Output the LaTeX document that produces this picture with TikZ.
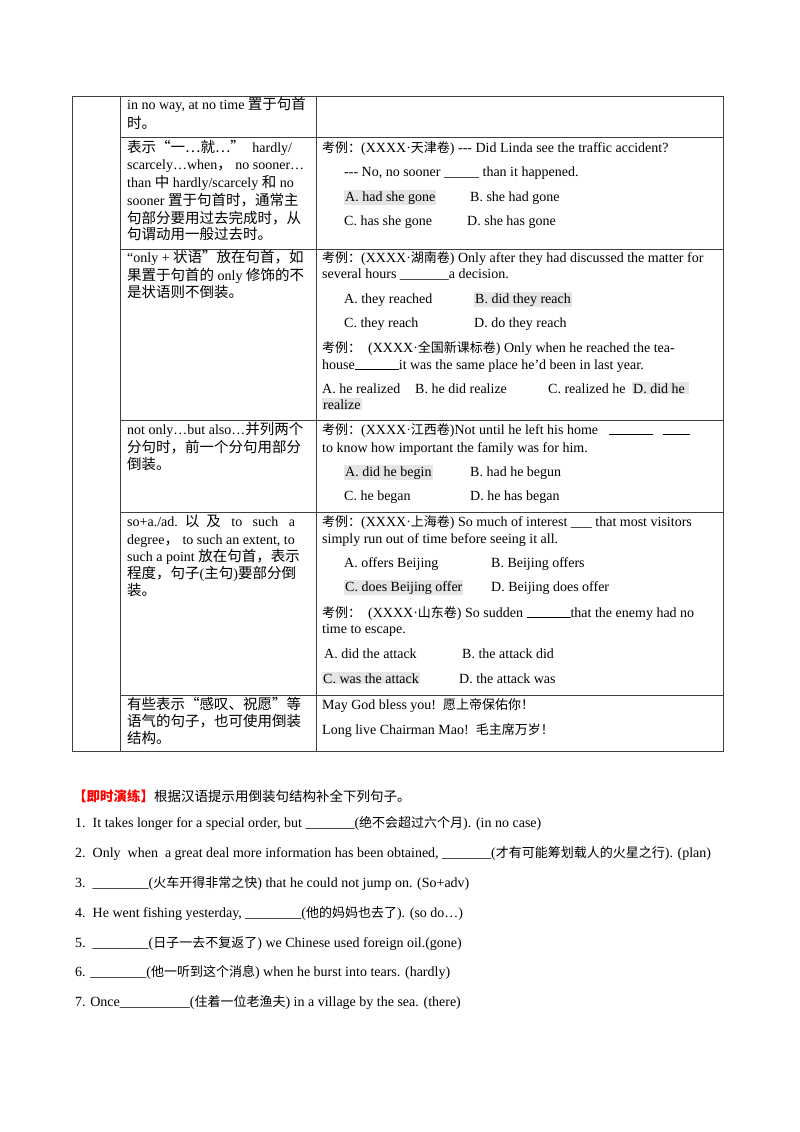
\documentclass[tikz,border=0pt]{standalone}
\usepackage{fontspec}
\setmainfont{Liberation Serif}
\newfontfamily\cjk{Noto Sans CJK SC}
\newcommand\z[1]{{\cjk\fontsize{13}{15}\selectfont #1}}
\newcommand\zl[1]{{\cjk\fontsize{14.5}{16}\selectfont #1}}
\newcommand\dsh{-{}-{}-}
\begin{document}
\begin{tikzpicture}[x=1pt,y=-1pt,
  t/.style={anchor=base west,inner sep=0pt,font=\fontsize{14}{16}\selectfont},
  h/.style={t,fill=gray!20,inner sep=1pt},
  grid/.style={line width=0.8pt,draw=black!75}]
\useasboundingbox (0,0) rectangle (800,1132);
\fill[white] (0,0) rectangle (800,1132);
% table
\draw[grid] (72,96) rectangle (723,751);
\draw[grid] (120,96) -- (120,751) (316,96) -- (316,751);
\foreach \y in {137,249,420,512,695} \draw[grid] (120,\y) -- (723,\y);
% row 1
\node[t] at (127,109) {in no way, at no time \zl{置于句首}};
\node[t] at (127,128) {\zl{时。}};
% row 2
\node[t] at (127,152) {\zl{表示“一…就…”}\hspace{4pt} hardly/};
\node[t] at (127,169) {scarcely…when\zl{，} no sooner…};
\node[t] at (127,187) {than \zl{中} hardly/scarcely \zl{和} no};
\node[t] at (127,205) {sooner \zl{置于句首时，通常主}};
\node[t] at (127,223) {\zl{句部分要用过去完成时，从}};
\node[t] at (127,239) {\zl{句谓动用一般过去时。}};
\node[t] at (322,152) {\z{考例：}(XXXX·\z{天津卷}) \dsh{} Did Linda see the traffic accident?};
\node[t] at (344,176) {\dsh{} No, no sooner \_\_\_\_\_ than it happened.};
\node[h] at (344,201) {A. had she gone};
\node[t] at (470,201) {B. she had gone};
\node[t] at (344,225) {C. has she gone};
\node[t] at (467,225) {D. she has gone};
% row 3
\node[t] at (127,262) {“only + \zl{状语”放在句首，如}};
\node[t] at (127,280) {\zl{果置于句首的} only \zl{修饰的不}};
\node[t] at (127,297) {\zl{是状语则不倒装。}};
\node[t] at (322,262) {\z{考例：}(XXXX·\z{湖南卷}) Only after they had discussed the matter for};
\node[t] at (322,278) {several hours \_\_\_\_\_\_\_a decision.};
\node[t] at (344,303) {A. they reached};
\node[h] at (474,303) {B. did they reach};
\node[t] at (344,327) {C. they reach};
\node[t] at (474,327) {D. do they reach};
\node[t] at (322,352) {\z{考例：}\ \ (XXXX·\z{全国新课标卷}) Only when he reached the tea-};
\node[t] at (322,369) {house\rule[-1pt]{44pt}{0.6pt}it was the same place he’d been in last year.};
\node[t] at (322,393) {A. he realized};
\node[t] at (415,393) {B. he did realize};
\node[t] at (548,393) {C. realized he};
\node[h] at (632,393) {D. did he\ \ };
\node[h] at (322,409) {realize};
% row 4
\node[t] at (127,434) {not only…but also…\zl{并列两个}};
\node[t] at (127,452) {\zl{分句时，前一个分句用部分}};
\node[t] at (127,469) {\zl{倒装。}};
\node[t] at (322,434) {\z{考例：}(XXXX·\z{江西卷})Not until he left his home\ \ \ \rule[-1pt]{44pt}{0.6pt}\ \ \ \rule[-1pt]{27pt}{0.6pt}};
\node[t] at (322,452) {to know how important the family was for him.};
\node[h] at (344,476) {A. did he begin};
\node[t] at (470,476) {B. had he begun};
\node[t] at (344,500) {C. he began};
\node[t] at (470,500) {D. he has began};
% row 5
\node[t] at (127,526) {so+a./ad.\ \ \zl{以}\ \ \zl{及}\ \ \ to\ \ \ such\ \ \ a};
\node[t] at (127,544) {degree\zl{，} to such an extent, to};
\node[t] at (127,561) {such a point \zl{放在句首，表示}};
\node[t] at (127,578) {\zl{程度，句子}(\zl{主句})\zl{要部分倒}};
\node[t] at (127,595) {\zl{装。}};
\node[t] at (322,526) {\z{考例：}(XXXX·\z{上海卷}) So much of interest \_\_\_ that most visitors};
\node[t] at (322,543) {simply run out of time before seeing it all.};
\node[t] at (344,567) {A. offers Beijing};
\node[t] at (491,567) {B. Beijing offers};
\node[h] at (344,591) {C. does Beijing offer};
\node[t] at (491,591) {D. Beijing does offer};
\node[t] at (322,617) {\z{考例：}\ \ (XXXX·\z{山东卷}) So sudden \rule[-1pt]{44pt}{0.6pt}that the enemy had no};
\node[t] at (322,633) {time to escape.};
\node[t] at (324,658) {A. did the attack};
\node[t] at (462,658) {B. the attack did};
\node[h] at (322,683) {C. was the attack};
\node[t] at (459,683) {D. the attack was};
% row 6
\node[t] at (127,709) {\zl{有些表示“感叹、祝愿”等}};
\node[t] at (127,726) {\zl{语气的句子，也可使用倒装}};
\node[t] at (127,743) {\zl{结构。}};
\node[t] at (322,709) {May God bless you!\ \ \z{愿上帝保佑你！}};
\node[t] at (322,734) {Long live Chairman Mao!\ \ \z{毛主席万岁！}};
% exercises
\node[t] at (73,801) {{\color{red}\cjk\bfseries\fontsize{13.5}{15}\selectfont 【即时演练】}{\cjk\fontsize{13.5}{15}\selectfont 根据汉语提示用倒装句结构补全下列句子。}};
\node[t] at (75,827) {1.\ \ It takes longer for a special order, but \_\_\_\_\_\_\_(\z{绝不会超过六个月}). (in no case)};
\node[t] at (75,857) {2.\ \ Only\ \ when\ \ a great deal more information has been obtained, \_\_\_\_\_\_\_(\z{才有可能筹划载人的火星之行}). (plan)};
\node[t] at (75,887) {3.\ \ \_\_\_\_\_\_\_\_(\z{火车开得非常之快}) that he could not jump on. (So+adv)};
\node[t] at (75,917) {4.\ \ He went fishing yesterday, \_\_\_\_\_\_\_\_(\z{他的妈妈也去了}). (so do…)};
\node[t] at (75,947) {5.\ \ \_\_\_\_\_\_\_\_(\z{日子一去不复返了}) we Chinese used foreign oil.(gone)};
\node[t] at (75,976) {6. \_\_\_\_\_\_\_\_(\z{他一听到这个消息}) when he burst into tears. (hardly)};
\node[t] at (75,1006) {7. Once\_\_\_\_\_\_\_\_\_\_(\z{住着一位老渔夫}) in a village by the sea. (there)};
\end{tikzpicture}
\end{document}
